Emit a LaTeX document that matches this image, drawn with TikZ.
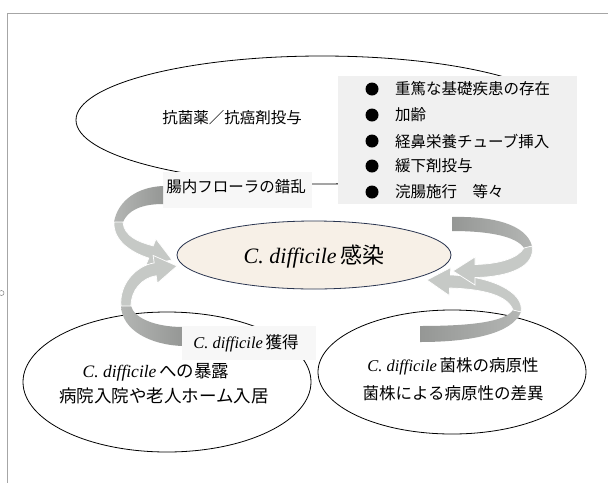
\documentclass[tikz,border=0pt]{standalone}
\usepackage{fontspec}
\setmainfont{Liberation Serif}
\newfontfamily\jp{Noto Sans CJK JP}
\usetikzlibrary{shapes.geometric}
\newcommand\cdf{{\rmfamily\itshape C. difficile}}
\definecolor{beige}{HTML}{F7F0E7}
\definecolor{navyline}{HTML}{2A3550}
\definecolor{ribdark}{HTML}{959795}
\definecolor{ribmid}{HTML}{B4B6B4}
\definecolor{riblight}{HTML}{C6C9C6}
\definecolor{ribpale}{HTML}{CFD2CF}
\begin{document}
\begin{tikzpicture}[x=1pt,y=-1pt,
  oval/.style={ellipse,draw=black,line width=0.8pt,fill=white,inner sep=0pt},
  txt/.style={font=\jp\fontsize{15.5}{18}\selectfont,inner sep=0pt},
  btxt/.style={font=\jp\fontsize{16.5}{19}\selectfont,inner sep=0pt},
  ltxt/.style={font=\jp\fontsize{17.5}{20}\selectfont,inner sep=0pt},
  lblbox/.style={fill=gray!6,inner sep=0pt},
  bullet/.style={circle,fill=black,minimum size=13pt,inner sep=0pt},
  backL/.style={left color=ribmid,right color=ribdark},
  backR/.style={left color=ribdark,right color=ribmid},
  front/.style={fill=riblight,draw=white,line width=0.7pt}
]
\useasboundingbox (0,0) rectangle (608,483);
\fill[white] (0,0) rectangle (608,483);
% frame
\draw[gray!70,line width=0.8pt] (608,13) -- (7,13) -- (7,483);
\node[circle,draw=gray,line width=0.5pt,minimum size=5pt,inner sep=0pt] (mark) at (1.5,293) {};

% top ellipse and boxes
\node[oval,minimum width=492pt,minimum height=128pt] (top) at (322,120) {};
\node[txt] (toptext) at (232,118) {抗菌薬／抗癌剤投与};
\node[fill=gray!12,inner sep=0pt,minimum width=239pt,minimum height=128pt] (risk) at (457.5,140) {};
\foreach \i/\y/\t in {1/89/重篤な基礎疾患の存在,2/115/加齢,3/141/経鼻栄養チューブ挿入,4/166/緩下剤投与,5/192/浣腸施行　等々}{
  \node[bullet] (b\i) at (372,\y) {};
  \node[txt,anchor=west] (t\i) at (395,\y) {\t};
}
\node[lblbox,minimum width=149pt,minimum height=36pt] (flora) at (237.5,190) {};
\node[txt] (floratext) at (236,187) {腸内フローラの錯乱};

% bottom ellipses
\node[oval,minimum width=288pt,minimum height=140pt] (expo) at (167,382) {};
\node[oval,minimum width=268pt,minimum height=124pt] (strain) at (452,372) {};

% ribbon arrows: upper left
\path[backL] (163,186) .. controls (138,187) and (118,200) .. (114,222)
  -- (123,222) .. controls (128,210) and (142,204) .. (163,204) -- cycle;
\path[front] (114,222) .. controls (113,240) and (130,252) .. (148.8,258.1)
  -- (146,265) -- (172,260) -- (156,239) -- (153.2,245.9)
  .. controls (138,242) and (124,236) .. (123,222) -- cycle;
% lower left
\path[backL] (183,346) .. controls (150,345) and (122,330) .. (121,306)
  -- (131,306) .. controls (134,318) and (155,327) .. (183,327) -- cycle;
\path[front] (121,306) .. controls (119,285) and (135,266) .. (154.2,262.9)
  -- (153.1,255.4) -- (177,266) -- (157.3,283.2) -- (156.2,275.7)
  .. controls (142,278) and (131,290) .. (131,306) -- cycle;
% lower right
\path[backR] (420,342) .. controls (470,342) and (512,334) .. (521,312)
  -- (513,310) .. controls (505,322) and (470,326) .. (420,326) -- cycle;
\path[front] (521,312) .. controls (525,292) and (490,276) .. (450.4,275)
  -- (450.8,267.5) -- (427,280) -- (449.2,295.5) -- (449.6,288)
  .. controls (485,289) and (508,296) .. (513,310) -- cycle;
% upper right
\path[backR] (452,217) .. controls (492,216) and (526,224) .. (532,246)
  -- (524,248) .. controls (516,236) and (488,231) .. (452,231) -- cycle;
\path[front] (532,246) .. controls (536,266) and (510,277) .. (475,277.5)
  -- (475,285) -- (453,271) -- (475,257) -- (475,264.5)
  .. controls (500,264) and (518,258) .. (524,248) -- cycle;

% central ellipse
\node[ellipse,draw=navyline,line width=0.8pt,fill=beige,inner sep=0pt,minimum width=274pt,minimum height=68pt] (inf) at (314,255) {};
\node[inner sep=0pt] (inftext) at (314,257) {\fontsize{22}{25}\selectfont\cdf\,{\jp 感染}};

% acquisition label
\node[lblbox,minimum width=134pt,minimum height=34pt] (acq) at (249,343) {};
\node[btxt] (acqtext) at (246,343) {\cdf\,{\jp 獲得}};

% bottom texts
\node[ltxt] (e1) at (156,372) {\cdf\,{\jp への暴露}};
\node[ltxt] (e2) at (164,396) {病院入院や老人ホーム入居};
\node[btxt] (s1) at (453,366) {\cdf\,{\jp 菌株の病原性}};
\node[btxt] (s2) at (453,393) {菌株による病原性の差異};
\end{tikzpicture}
\end{document}
